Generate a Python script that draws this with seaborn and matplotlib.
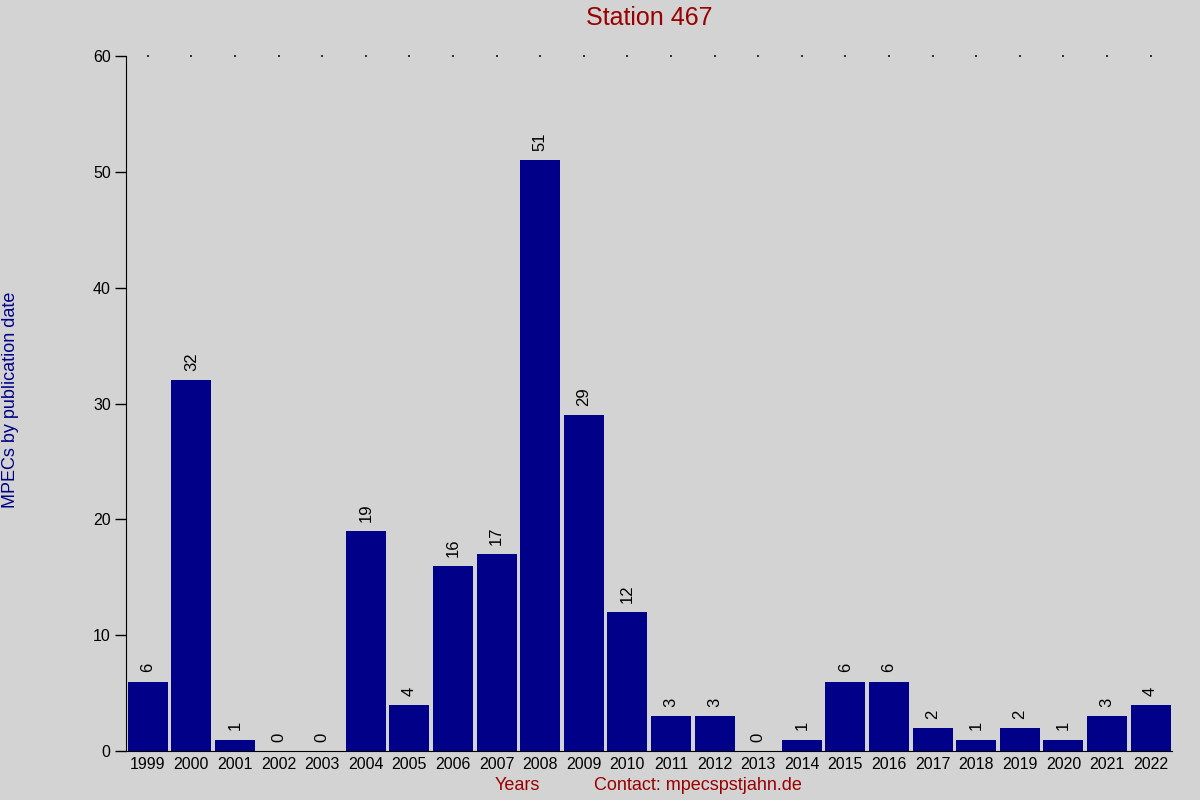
import numpy as np
import pandas as pd
import seaborn as sns
from matplotlib import pyplot as plt

years = [str(y) for y in range(1999, 2023)]
counts = [6, 32, 1, 0, 0, 19, 4, 16, 17, 51, 29, 12, 3, 3, 0, 1, 6, 6, 2, 1, 2, 1, 3, 4]
yticks = [0, 10, 20, 30, 40, 50, 60]

df = pd.DataFrame({'Year': years, 'MPECs': counts})

sns.set_style("white")
plt.rcParams['font.family'] = ['Liberation Sans', 'DejaVu Sans']

bg = '#d3d3d3'
fig = plt.figure(figsize=(12, 8), dpi=100, facecolor=bg)
ax = fig.add_axes([0.105, 0.061, 0.872, 0.869], facecolor=bg)

sns.barplot(data=df, x='Year', y='MPECs', color='#000088', saturation=1, width=0.92,
            linewidth=0, edgecolor='none', ax=ax)

for i, v in enumerate(counts):
    ax.text(i, v + 0.8, str(v), rotation=90, ha='center', va='bottom', fontsize=12, color='black')

# dotted marks along the top
ax.scatter(range(len(years)), [yticks[-1]] * len(years), s=1.0, color='#333333', marker='s',
           linewidths=0, clip_on=False)

ax.set_xlim(-0.5, len(years) - 0.5)
ax.set_ylim(0, 60)
ax.set_yticks(yticks)
ax.tick_params(axis='y', direction='out', length=8, width=1, color='black', labelsize=11.5,
               labelcolor='black', pad=3, left=True)
ax.tick_params(axis='x', length=0, labelsize=11.5, labelcolor='black', pad=4)
for s in ['top', 'right']:
    ax.spines[s].set_visible(False)
ax.spines['left'].set_color('black')
ax.spines['bottom'].set_color('black')

ax.set_xlabel('')
ax.set_ylabel('')
fig.text(0.009, 0.5, 'MPECs by publication date', rotation=90, va='center', ha='center', fontsize=13, color='#000088')
fig.text(0.431, 0.018, 'Years', ha='center', va='center', fontsize=13, color='#990000')
fig.text(0.582, 0.018, 'Contact: mpecspstjahn.de', ha='center', va='center', fontsize=13, color='#990000')
fig.text(0.541, 0.977, 'Station 467', ha='center', va='center', fontsize=18, color='#990000')

plt.savefig("out.png", dpi=100, facecolor=bg)
